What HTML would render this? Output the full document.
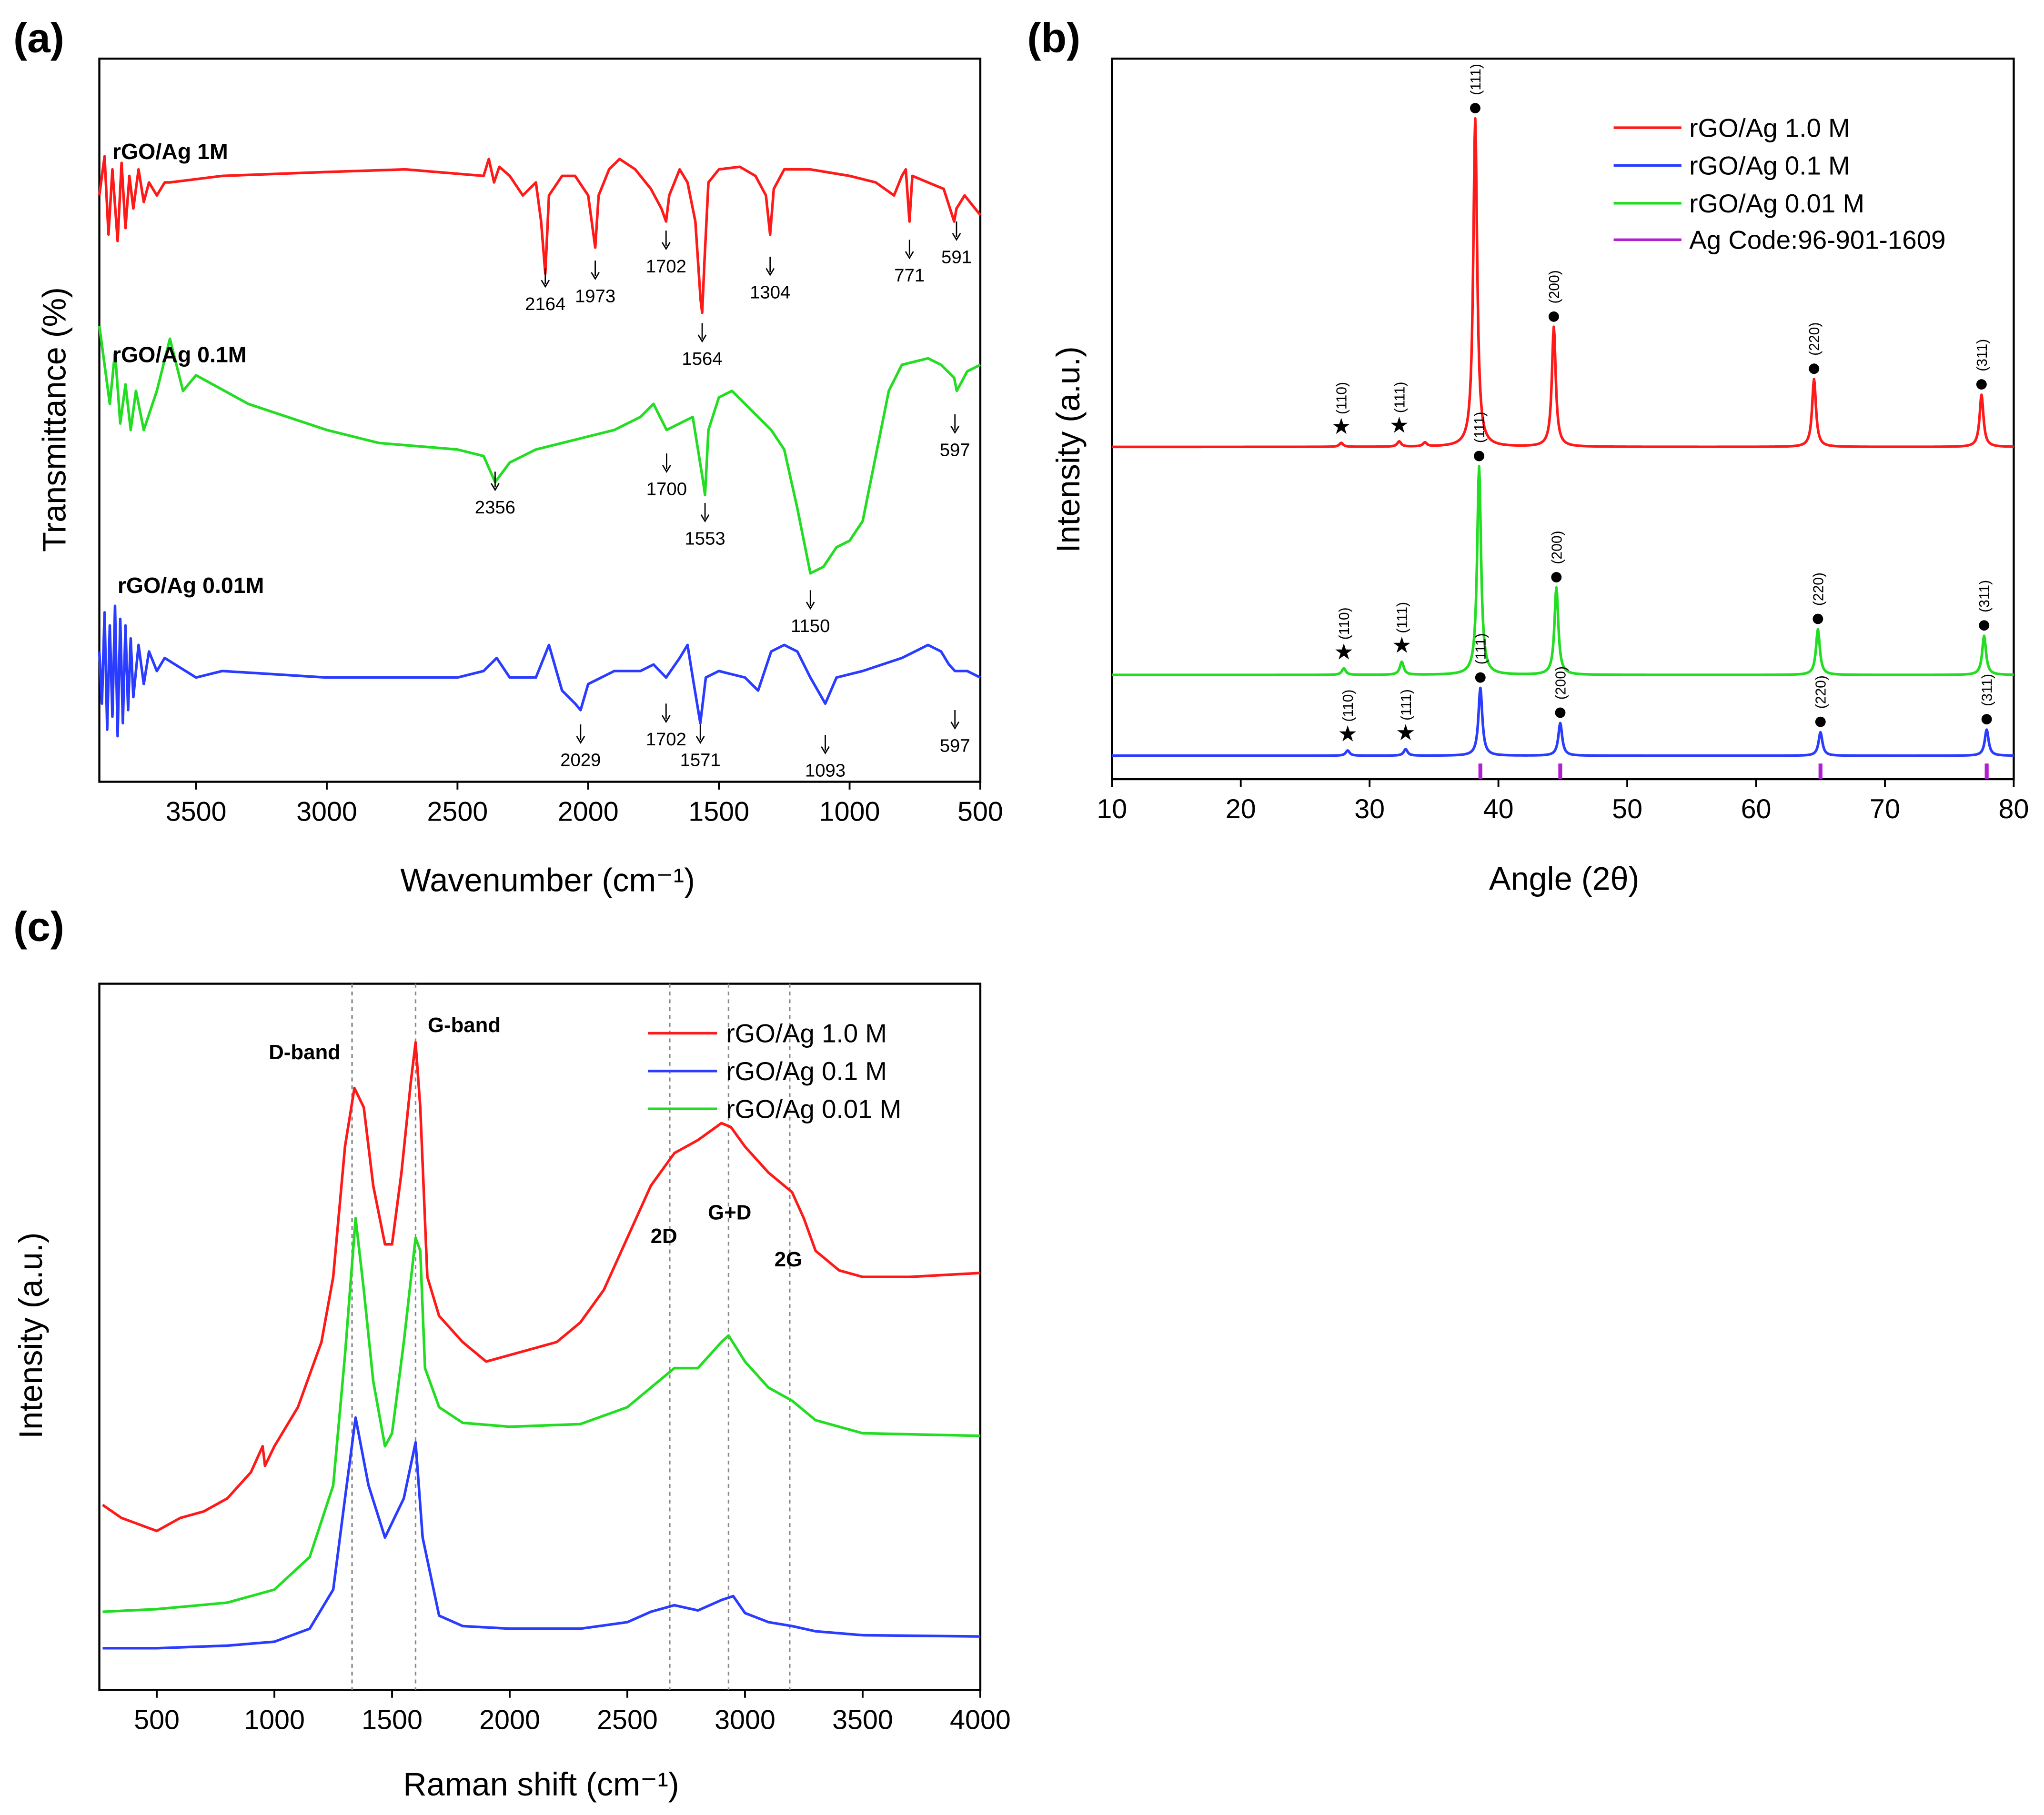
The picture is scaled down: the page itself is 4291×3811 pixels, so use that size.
<!DOCTYPE html>
<html><head><meta charset="utf-8"><style>html,body{margin:0;padding:0;background:#fff}svg{display:block}text{font-family:"Liberation Sans",sans-serif}</style></head>
<body>
<svg id="fig" width="4291" height="3811" viewBox="0 0 1568 1393" xmlns="http://www.w3.org/2000/svg"></svg>
<script>
// ---------- DATA ----------
// FTIR (a): [wavenumber, transmittance a.u.]
const ftirRed=[[3870,450],[3850,480],[3835,420],[3820,470],[3800,415],[3785,475],[3770,425],[3755,465],[3740,440],[3720,470],[3700,445],[3680,460],[3650,450],[3620,460],[3600,460],[3400,465],[3000,468],[2700,470],[2400,465],[2380,478],[2360,460],[2340,472],[2300,465],[2250,450],[2200,460],[2180,430],[2164,390],[2150,450],[2100,465],[2050,465],[2000,450],[1973,410],[1960,450],[1920,470],[1880,478],[1820,470],[1760,455],[1720,440],[1702,430],[1690,450],[1650,470],[1620,460],[1590,430],[1570,370],[1564,360],[1555,400],[1540,460],[1500,470],[1420,472],[1360,465],[1320,450],[1304,420],[1290,455],[1250,470],[1150,470],[1000,465],[900,460],[830,450],[800,465],[785,470],[771,430],[760,465],[700,460],[640,455],[600,430],[591,440],[560,450],[520,440],[500,435]];
const ftirGreen=[[3870,350],[3850,320],[3830,290],[3810,330],[3790,275],[3770,305],[3750,270],[3730,300],[3700,270],[3650,300],[3600,340],[3550,300],[3500,312],[3300,290],[3000,270],[2800,260],[2500,255],[2400,250],[2356,230],[2300,245],[2200,255],[2100,260],[2000,265],[1900,270],[1800,280],[1750,290],[1700,270],[1650,275],[1600,280],[1560,230],[1553,220],[1540,270],[1500,295],[1450,300],[1400,290],[1350,280],[1300,270],[1250,255],[1200,210],[1150,160],[1100,165],[1050,180],[1000,185],[950,200],[900,250],[850,300],[800,320],[700,325],[650,320],[600,310],[590,300],[550,315],[500,320]];
const ftirBlue=[[3870,100],[3860,60],[3850,130],[3840,40],[3830,120],[3820,50],[3810,135],[3800,35],[3790,125],[3780,45],[3770,120],[3760,55],[3750,110],[3740,65],[3720,105],[3700,75],[3680,100],[3650,85],[3620,95],[3500,80],[3400,85],[3000,80],[2500,80],[2400,85],[2350,95],[2300,80],[2200,80],[2150,105],[2100,70],[2050,60],[2029,55],[2000,75],[1950,80],[1900,85],[1800,85],[1750,90],[1702,80],[1650,95],[1620,105],[1600,80],[1571,45],[1550,80],[1500,85],[1400,80],[1350,70],[1300,100],[1250,105],[1200,100],[1150,80],[1093,60],[1050,80],[950,85],[800,95],[700,105],[650,100],[620,90],[597,85],[550,85],[500,80]];
const ftirTicks=[3500,3000,2500,2000,1500,1000,500];
// XRD (b): peaks [2theta, height]; baselines
const xrdRedPeaks=[[27.8,3],[32.3,4],[34.3,3],[38.2,252],[44.3,92],[64.5,52],[77.5,40]];
const xrdGreenPeaks=[[28.0,5],[32.5,10],[38.5,160],[44.5,67],[64.8,35],[77.7,30]];
const xrdBluePeaks=[[28.3,4],[32.8,5],[38.6,52],[44.8,25],[65.0,18],[77.9,20]];
const xrdBase=[255,80,18];
const agRef=[38.6,44.8,65.0,77.9];
const xrdTicks=[10,20,30,40,50,60,70,80];
// Raman (c): [shift, intensity a.u.]
const ramanRed=[[270,142],[350,132],[500,122],[600,132],[700,137],[800,147],[900,167],[950,187],[960,172],[1000,187],[1100,217],[1200,267],[1250,317],[1300,417],[1340,462],[1380,447],[1420,387],[1470,342],[1500,342],[1540,397],[1580,467],[1600,497],[1620,447],[1650,317],[1700,287],[1800,267],[1900,252],[2000,257],[2100,262],[2200,267],[2300,282],[2400,307],[2500,347],[2600,387],[2700,412],[2800,422],[2900,435],[2940,432],[3000,417],[3100,397],[3200,382],[3250,362],[3300,337],[3400,322],[3500,317],[3700,317],[4000,320]];
const ramanGreen=[[270,60],[500,62],[800,67],[1000,77],[1150,102],[1250,157],[1300,257],[1345,362],[1380,307],[1420,237],[1470,187],[1500,197],[1550,267],[1600,347],[1620,337],[1640,247],[1700,217],[1800,205],[2000,202],[2300,204],[2500,217],[2600,232],[2700,247],[2800,247],[2900,267],[2930,272],[3000,252],[3100,232],[3200,222],[3300,207],[3500,197],[4000,195]];
const ramanBlue=[[270,32],[500,32],[800,34],[1000,37],[1150,47],[1250,77],[1300,147],[1345,209],[1400,157],[1470,117],[1550,147],[1600,190],[1630,117],[1700,57],[1800,49],[2000,47],[2300,47],[2500,52],[2600,60],[2700,65],[2800,61],[2900,69],[2950,72],[3000,59],[3100,52],[3200,49],[3300,45],[3500,42],[4000,41]];
const ramanBands=[1330,1600,2680,2930,3190];
const ramanTicks=[500,1000,1500,2000,2500,3000,3500,4000];

// ---------- helpers ----------
const svg=document.getElementById('fig');
const NS='http://www.w3.org/2000/svg';
function mk(tag,attrs,parent,txt){const e=document.createElementNS(NS,tag);for(const k in attrs)e.setAttribute(k,attrs[k]);if(txt!==undefined)e.textContent=txt;(parent||svg).appendChild(e);return e;}
function lin(d0,d1,r0,r1){return v=>r0+(v-d0)*(r1-r0)/(d1-d0);}
function poly(pts,xs,ys,color,name,w){const d=pts.map((p,i)=>(i?'L':'M')+xs(p[0]).toFixed(2)+','+ys(p[1]).toFixed(2)).join('');const e=mk('path',{d:d,fill:'none',stroke:color,'stroke-width':w||2,'stroke-linejoin':'round'});return e;}
function frame(x0,y0,x1,y1,name){const e=mk('rect',{x:x0,y:y0,width:x1-x0,height:y1-y0,fill:'none',stroke:'#000','stroke-width':1.6});}
function txt(x,y,s,size,opts,name){const a=Object.assign({x:x,y:y,'font-size':size,fill:'#000'},opts||{});const e=mk('text',a,svg,s);return e;}
function xticks(ticks,xs,yb,name){ticks.forEach(t=>{mk('line',{x1:xs(t),x2:xs(t),y1:yb,y2:yb+6,stroke:'#000','stroke-width':1.4});const e=txt(xs(t),yb+30,String(t),21,{'text-anchor':'middle'},name);});}

// ---------- Panel (a) FTIR ----------
const ax=lin(3870,500,76,752), ay=lin(0,555,600,45);
frame(76,45,752,600,'ftir-plot-frame');
xticks(ftirTicks,ax,600,'ftir-x-tick-label');
poly(ftirRed,ax,ay,'#ff1a1a','ftir-series-1m');
poly(ftirGreen,ax,ay,'#22dd22','ftir-series-0-1m');
poly(ftirBlue,ax,ay,'#2a3cff','ftir-series-0-01m');
txt(10,40,'(a)',32,{'font-weight':'bold'},'panel-label-a');
txt(50,322,'Transmittance (%)',25,{'text-anchor':'middle',transform:'rotate(-90 50 322)'},'ftir-y-axis-title');
txt(420,684,'Wavenumber (cm⁻¹)',25,{'text-anchor':'middle'},'ftir-x-axis-title');
txt(86,122,'rGO/Ag 1M',17,{'font-weight':'bold'},'ftir-label-1m');
txt(86,278,'rGO/Ag 0.1M',17,{'font-weight':'bold'},'ftir-label-0-1m');
txt(90,455,'rGO/Ag 0.01M',17,{'font-weight':'bold'},'ftir-label-0-01m');
const ftirAnn=[[2164,238,2164,'v'],[1973,232,1973,'d'],[1702,209,1702,'d'],[1564,280,1564,'v'],[1304,229,1304,'v'],[771,216,771,'v'],[591,202,591,'v'],
[2356,394,2356,'d'],[1700,380,1700,'d'],[1553,418,1553,'v'],[1150,485,1150,'v'],[597,350,597,'v'],
[2029,588,2029,'v'],[1702,572,1702,'d'],[1571,588,1571,'d'],[1093,596,1093,'d'],[597,577,597,'d']];
ftirAnn.forEach(a=>{const x=ax(a[0]);txt(x,a[1],String(a[2]),14,{'text-anchor':'middle'},'ftir-peak-annotation');mk('line',{x1:x,x2:x,y1:a[1]-32,y2:a[1]-20,stroke:'#000','stroke-width':1});mk('path',{d:`M${x-3},${a[1]-23}L${x},${a[1]-18}L${x+3},${a[1]-23}`,fill:'none',stroke:'#000','stroke-width':1});});

// ---------- Panel (b) XRD ----------
const bx=lin(10,80,853,1545), by=lin(0,553,598,45);
frame(853,45,1545,598,'xrd-plot-frame');
xticks(xrdTicks,bx,598,'xrd-x-tick-label');
function xrdCurve(peaks,base){const pts=[];for(let t=10;t<=80.001;t+=0.05){let v=base;peaks.forEach(p=>{const w=0.18;v+=p[1]/(1+((t-p[0])/w)**2);});pts.push([t,v]);}return pts;}
const greenBase=xrdBase[1];
poly(xrdCurve(xrdRedPeaks,xrdBase[0]),bx,by,'#ff1a1a','xrd-series-1m');
poly(xrdCurve(xrdGreenPeaks,greenBase),bx,by,'#22dd22','xrd-series-0-01m');
poly(xrdCurve(xrdBluePeaks,xrdBase[2]),bx,by,'#2a3cff','xrd-series-0-1m');
agRef.forEach(t=>{const e=mk('line',{x1:bx(t),x2:bx(t),y1:598,y2:586,stroke:'#b020d0','stroke-width':3});});
[[xrdRedPeaks,xrdBase[0]],[xrdGreenPeaks,greenBase],[xrdBluePeaks,xrdBase[2]]].forEach(s=>{const labs=['(110)','(111)'];s[0].forEach((p,i)=>{if(p[0]<36){if(p[0]>34)return;const x=bx(p[0]),y=by(s[1]+p[1])-10;txt(x,y+3,'★',17,{'text-anchor':'middle'},'xrd-star-marker');txt(x+4,y-12,labs[i],11,{transform:`rotate(-90 ${x+4} ${y-12})`},'xrd-hkl-label');}else{const x=bx(p[0]),y=by(s[1]+p[1])-8;mk('circle',{cx:x,cy:y,r:4,fill:'#000'});const hk=['(111)','(200)','(220)','(311)'][[38,44,64,77].findIndex(q=>Math.abs(q-p[0])<1.5)];txt(x+4,y-10,hk,11,{transform:`rotate(-90 ${x+4} ${y-10})`},'xrd-hkl-label');}});});
txt(788,40,'(b)',32,{'font-weight':'bold'},'panel-label-b');
txt(828,345,'Intensity (a.u.)',25,{'text-anchor':'middle',transform:'rotate(-90 828 345)'},'xrd-y-axis-title');
txt(1200,683,'Angle (2θ)',25,{'text-anchor':'middle'},'xrd-x-axis-title');
[['#ff1a1a','rGO/Ag 1.0 M',98],['#2a3cff','rGO/Ag 0.1 M',127],['#22dd22','rGO/Ag 0.01 M',156],['#b020d0','Ag Code:96-901-1609',184]].forEach(l=>{mk('line',{x1:1238,x2:1290,y1:l[2],y2:l[2],stroke:l[0],'stroke-width':2});txt(1296,l[2]+7,l[1],20,{},'xrd-legend-entry');});

// ---------- Panel (c) Raman ----------
const cx=lin(256,4000,76,752), cy=lin(0,542,1297,755);
frame(76,755,752,1297,'raman-plot-frame');
xticks(ramanTicks,cx,1297,'raman-x-tick-label');
ramanBands.forEach(b=>{const e=mk('line',{x1:cx(b),x2:cx(b),y1:755,y2:1297,stroke:'#888','stroke-width':1.2,'stroke-dasharray':'3,3'});});
poly(ramanRed,cx,cy,'#ff1a1a','raman-series-1m');
poly(ramanGreen,cx,cy,'#22dd22','raman-series-0-01m');
poly(ramanBlue,cx,cy,'#2a3cff','raman-series-0-1m');
txt(10,722,'(c)',32,{'font-weight':'bold'},'panel-label-c');
txt(32,1025,'Intensity (a.u.)',25,{'text-anchor':'middle',transform:'rotate(-90 32 1025)'},'raman-y-axis-title');
txt(415,1378,'Raman shift (cm⁻¹)',25,{'text-anchor':'middle'},'raman-x-axis-title');
txt(206,813,'D-band',16,{'font-weight':'bold'},'d-band-label');
txt(328,792,'G-band',16,{'font-weight':'bold'},'g-band-label');
txt(499,954,'2D',16,{'font-weight':'bold'},'2d-label');
txt(543,936,'G+D',16,{'font-weight':'bold'},'g-plus-d-label');
txt(594,972,'2G',16,{'font-weight':'bold'},'2g-label');
[['#ff1a1a','rGO/Ag 1.0 M',793],['#2a3cff','rGO/Ag 0.1 M',822],['#22dd22','rGO/Ag 0.01 M',851]].forEach(l=>{mk('line',{x1:497,x2:550,y1:l[2],y2:l[2],stroke:l[0],'stroke-width':2});txt(557,l[2]+7,l[1],20,{},'raman-legend-entry');});
</script>
</body></html>
